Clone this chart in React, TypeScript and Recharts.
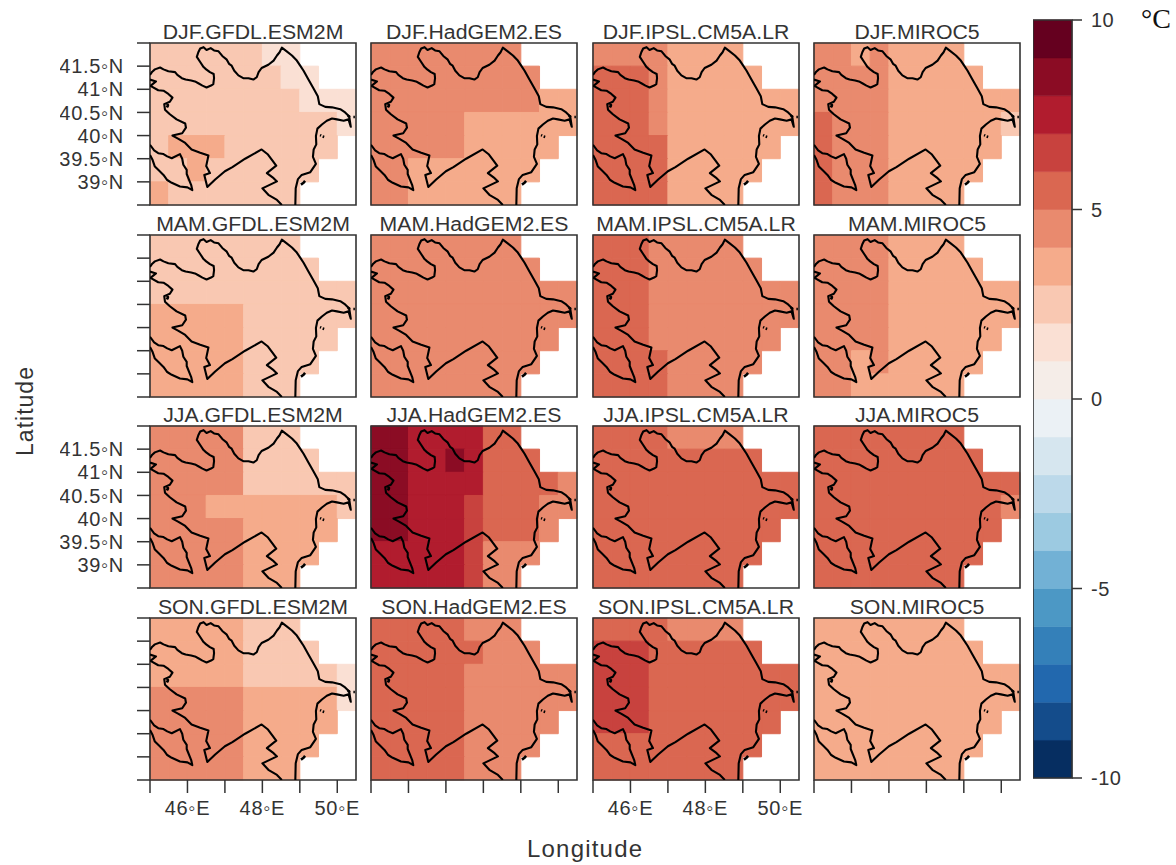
import React from "react";
import { ComposedChart, Line, XAxis, YAxis, ReferenceArea } from "recharts";

const FONT = "'Liberation Sans', Arial, sans-serif";
const INK = "#333333";

// colour key, one band per degree from -10 to 10
const BAND_COLORS = [
  "#062e61", "#144c8b", "#2268ae", "#3480b9", "#4c98c5",
  "#72b1d5", "#9ccae1", "#bcd9ea", "#d6e6ef", "#ebf1f5",
  "#f5ede8", "#fae0d4", "#f9c8b2", "#f5ab8b", "#e98a6e",
  "#da6751", "#c8423e", "#b11c2e", "#8b0c24", "#65001f",
];
const COLORBAR_TICKS = [-10, -5, 0, 5, 10];
const COLORBAR_RANGE = [{ x: 0, value: -10 }, { x: 1, value: 10 }];

const LON_TICKS = [45, 46, 47, 48, 49, 50];
const LON_LABELS = [46, 48, 50];
const LAT_TICKS = [38.5, 39, 39.5, 40, 40.5, 41, 41.5, 42];
const LAT_LABELS = [39, 39.5, 40, 40.5, 41, 41.5];

const SEASONS = ["DJF", "MAM", "JJA", "SON"];
const MODELS = ["GFDL.ESM2M", "HadGEM2.ES", "IPSL.CM5A.LR", "MIROC5"];

// warming per cell, north row first, west to east; rows stop where the domain is masked
const DJF_GFDL = [
  [2.5, 2.5, 2.5, 2.5, 2.5, 2.5, 1.5, 1.5],
  [2.5, 2.5, 2.5, 2.5, 2.5, 2.5, 2.5, 1.5, 1.5],
  [2.5, 2.5, 2.5, 2.5, 2.5, 2.5, 2.5, 2.5, 1.5, 1.5, 1.5],
  [2.5, 2.5, 2.5, 2.5, 2.5, 2.5, 2.5, 2.5, 2.5, 2.5, 1.5],
  [2.5, 3.5, 3.5, 3.5, 2.5, 2.5, 2.5, 2.5, 2.5, 2.5],
  [2.5, 2.5, 3.5, 2.5, 2.5, 2.5, 2.5, 2.5, 2.5],
  [3.5, 2.5, 2.5, 2.5, 2.5, 2.5, 2.5, 2.5],
];
const DJF_HAD = [
  [4.5, 4.5, 4.5, 4.5, 4.5, 4.5, 4.5, 4.5],
  [4.5, 4.5, 4.5, 4.5, 4.5, 4.5, 4.5, 4.5, 4.5],
  [4.5, 4.5, 4.5, 4.5, 4.5, 4.5, 4.5, 4.5, 4.5, 3.5, 3.5],
  [4.5, 4.5, 4.5, 4.5, 4.5, 3.5, 3.5, 3.5, 3.5, 3.5, 3.5],
  [4.5, 4.5, 4.5, 4.5, 4.5, 3.5, 3.5, 3.5, 3.5, 3.5],
  [4.5, 4.5, 3.5, 3.5, 3.5, 3.5, 3.5, 3.5, 3.5],
  [4.5, 4.5, 3.5, 3.5, 3.5, 3.5, 3.5, 3.5],
];
const DJF_IPSL = [
  [4.5, 4.5, 4.5, 4.5, 3.5, 3.5, 3.5, 3.5],
  [5.5, 5.5, 5.5, 4.5, 3.5, 3.5, 3.5, 3.5, 3.5],
  [5.5, 5.5, 5.5, 4.5, 3.5, 3.5, 3.5, 3.5, 3.5, 3.5, 3.5],
  [5.5, 5.5, 5.5, 4.5, 3.5, 3.5, 3.5, 3.5, 3.5, 3.5, 3.5],
  [5.5, 5.5, 5.5, 5.5, 3.5, 3.5, 3.5, 3.5, 3.5, 3.5],
  [5.5, 5.5, 5.5, 5.5, 3.5, 3.5, 3.5, 3.5, 3.5],
  [5.5, 5.5, 5.5, 5.5, 3.5, 3.5, 3.5, 3.5],
];
const DJF_MIROC = [
  [4.5, 4.5, 3.5, 4.5, 3.5, 3.5, 3.5, 3.5],
  [4.5, 4.5, 4.5, 4.5, 3.5, 3.5, 3.5, 3.5, 3.5],
  [4.5, 4.5, 4.5, 4.5, 3.5, 3.5, 3.5, 3.5, 3.5, 3.5, 3.5],
  [5.5, 4.5, 4.5, 4.5, 3.5, 3.5, 3.5, 3.5, 3.5, 3.5, 2.5],
  [5.5, 4.5, 4.5, 4.5, 3.5, 3.5, 3.5, 3.5, 3.5, 3.5],
  [5.5, 4.5, 4.5, 4.5, 3.5, 3.5, 3.5, 3.5, 3.5],
  [5.5, 4.5, 4.5, 4.5, 3.5, 3.5, 3.5, 3.5],
];
const MAM_GFDL = [
  [2.5, 2.5, 2.5, 2.5, 2.5, 2.5, 2.5, 2.5],
  [2.5, 2.5, 2.5, 2.5, 2.5, 2.5, 2.5, 2.5, 2.5],
  [2.5, 2.5, 2.5, 2.5, 2.5, 2.5, 2.5, 2.5, 2.5, 2.5, 2.5],
  [3.5, 3.5, 3.5, 3.5, 3.5, 2.5, 2.5, 2.5, 2.5, 2.5, 2.5],
  [3.5, 3.5, 3.5, 3.5, 3.5, 2.5, 2.5, 2.5, 2.5, 2.5],
  [3.5, 3.5, 3.5, 3.5, 3.5, 2.5, 2.5, 2.5, 2.5],
  [3.5, 3.5, 3.5, 3.5, 3.5, 2.5, 2.5, 2.5],
];
const MAM_HAD = [
  [4.5, 4.5, 4.5, 4.5, 4.5, 4.5, 4.5, 4.5],
  [4.5, 4.5, 4.5, 4.5, 4.5, 4.5, 4.5, 4.5, 4.5],
  [4.5, 4.5, 4.5, 4.5, 4.5, 4.5, 4.5, 4.5, 4.5, 4.5, 4.5],
  [4.5, 4.5, 4.5, 4.5, 4.5, 4.5, 4.5, 4.5, 4.5, 4.5, 4.5],
  [4.5, 4.5, 4.5, 4.5, 4.5, 4.5, 4.5, 4.5, 4.5, 4.5],
  [4.5, 4.5, 4.5, 4.5, 4.5, 4.5, 4.5, 4.5, 4.5],
  [4.5, 4.5, 4.5, 4.5, 4.5, 4.5, 4.5, 4.5],
];
const MAM_IPSL = [
  [5.5, 5.5, 5.5, 4.5, 4.5, 4.5, 4.5, 4.5],
  [5.5, 5.5, 5.5, 4.5, 4.5, 4.5, 4.5, 4.5, 4.5],
  [5.5, 5.5, 5.5, 4.5, 4.5, 4.5, 4.5, 4.5, 4.5, 4.5, 4.5],
  [5.5, 5.5, 5.5, 4.5, 4.5, 4.5, 4.5, 4.5, 4.5, 4.5, 4.5],
  [5.5, 5.5, 5.5, 4.5, 4.5, 4.5, 4.5, 4.5, 4.5, 4.5],
  [5.5, 5.5, 5.5, 5.5, 4.5, 4.5, 4.5, 4.5, 4.5],
  [5.5, 5.5, 5.5, 5.5, 4.5, 4.5, 4.5, 4.5],
];
const MAM_MIROC = [
  [4.5, 4.5, 4.5, 4.5, 3.5, 3.5, 3.5, 3.5],
  [4.5, 4.5, 4.5, 4.5, 3.5, 3.5, 3.5, 3.5, 3.5],
  [4.5, 4.5, 4.5, 4.5, 3.5, 3.5, 3.5, 3.5, 3.5, 3.5, 3.5],
  [4.5, 4.5, 4.5, 4.5, 3.5, 3.5, 3.5, 3.5, 3.5, 3.5, 3.5],
  [4.5, 4.5, 4.5, 4.5, 3.5, 3.5, 3.5, 3.5, 3.5, 3.5],
  [4.5, 4.5, 3.5, 4.5, 3.5, 3.5, 3.5, 3.5, 3.5],
  [4.5, 4.5, 3.5, 3.5, 3.5, 3.5, 3.5, 3.5],
];
const JJA_GFDL = [
  [4.5, 4.5, 4.5, 4.5, 4.5, 2.5, 2.5, 2.5],
  [4.5, 4.5, 4.5, 4.5, 4.5, 2.5, 2.5, 2.5, 2.5],
  [4.5, 4.5, 4.5, 4.5, 4.5, 2.5, 2.5, 2.5, 2.5, 2.5, 2.5],
  [4.5, 4.5, 4.5, 3.5, 3.5, 3.5, 3.5, 3.5, 3.5, 3.5, 2.5],
  [4.5, 4.5, 4.5, 4.5, 4.5, 3.5, 3.5, 3.5, 3.5, 3.5],
  [4.5, 4.5, 4.5, 4.5, 4.5, 3.5, 3.5, 3.5, 3.5],
  [4.5, 4.5, 4.5, 4.5, 4.5, 3.5, 3.5, 3.5],
];
const JJA_HAD = [
  [8.5, 8.5, 7.5, 7.5, 7.5, 7.5, 5.5, 5.5],
  [8.5, 8.5, 7.5, 7.5, 8.5, 7.5, 5.5, 5.5, 5.5],
  [8.5, 8.5, 7.5, 7.5, 7.5, 7.5, 5.5, 5.5, 5.5, 5.5, 4.5],
  [8.5, 8.5, 7.5, 7.5, 7.5, 6.5, 5.5, 5.5, 5.5, 4.5, 4.5],
  [8.5, 8.5, 7.5, 7.5, 7.5, 6.5, 5.5, 5.5, 5.5, 4.5],
  [7.5, 7.5, 7.5, 7.5, 7.5, 6.5, 4.5, 4.5, 4.5],
  [7.5, 7.5, 7.5, 7.5, 7.5, 6.5, 4.5, 4.5],
];
const JJA_IPSL = [
  [5.5, 5.5, 5.5, 5.5, 4.5, 4.5, 4.5, 4.5],
  [5.5, 5.5, 5.5, 5.5, 5.5, 5.5, 5.5, 5.5, 5.5],
  [5.5, 5.5, 5.5, 5.5, 5.5, 5.5, 5.5, 5.5, 5.5, 5.5, 5.5],
  [5.5, 5.5, 5.5, 5.5, 5.5, 5.5, 5.5, 5.5, 5.5, 5.5, 5.5],
  [5.5, 5.5, 5.5, 5.5, 5.5, 5.5, 5.5, 5.5, 5.5, 5.5],
  [5.5, 5.5, 5.5, 5.5, 5.5, 5.5, 5.5, 5.5, 5.5],
  [5.5, 5.5, 5.5, 5.5, 5.5, 5.5, 5.5, 5.5],
];
const JJA_MIROC = [
  [5.5, 5.5, 5.5, 5.5, 5.5, 5.5, 5.5, 5.5],
  [5.5, 5.5, 5.5, 5.5, 5.5, 5.5, 5.5, 5.5, 5.5],
  [5.5, 5.5, 5.5, 5.5, 5.5, 5.5, 5.5, 5.5, 5.5, 5.5, 5.5],
  [5.5, 5.5, 5.5, 5.5, 5.5, 5.5, 5.5, 5.5, 5.5, 5.5, 4.5],
  [5.5, 5.5, 5.5, 5.5, 5.5, 5.5, 5.5, 5.5, 5.5, 5.5],
  [5.5, 5.5, 5.5, 5.5, 5.5, 5.5, 5.5, 5.5, 5.5],
  [5.5, 5.5, 5.5, 5.5, 5.5, 5.5, 5.5, 5.5],
];
const SON_GFDL = [
  [3.5, 3.5, 3.5, 3.5, 3.5, 2.5, 2.5, 2.5],
  [3.5, 3.5, 3.5, 3.5, 3.5, 2.5, 2.5, 2.5, 2.5],
  [3.5, 3.5, 3.5, 3.5, 3.5, 2.5, 2.5, 2.5, 2.5, 2.5, 1.5],
  [4.5, 4.5, 4.5, 4.5, 4.5, 3.5, 3.5, 3.5, 3.5, 3.5, 1.5],
  [4.5, 4.5, 4.5, 4.5, 4.5, 3.5, 3.5, 3.5, 3.5, 3.5],
  [4.5, 4.5, 4.5, 4.5, 4.5, 3.5, 3.5, 3.5, 3.5],
  [4.5, 4.5, 4.5, 4.5, 4.5, 3.5, 3.5, 3.5],
];
const SON_HAD = [
  [5.5, 5.5, 5.5, 5.5, 5.5, 4.5, 4.5, 4.5],
  [5.5, 5.5, 5.5, 5.5, 5.5, 5.5, 4.5, 4.5, 4.5],
  [5.5, 5.5, 5.5, 5.5, 5.5, 4.5, 4.5, 4.5, 4.5, 4.5, 4.5],
  [5.5, 5.5, 5.5, 5.5, 5.5, 4.5, 4.5, 4.5, 4.5, 4.5, 4.5],
  [5.5, 5.5, 5.5, 5.5, 5.5, 4.5, 4.5, 4.5, 4.5, 4.5],
  [5.5, 5.5, 5.5, 5.5, 5.5, 4.5, 4.5, 4.5, 4.5],
  [5.5, 5.5, 5.5, 5.5, 5.5, 4.5, 4.5, 4.5],
];
const SON_IPSL = [
  [5.5, 5.5, 5.5, 5.5, 4.5, 4.5, 4.5, 4.5],
  [6.5, 6.5, 6.5, 5.5, 5.5, 5.5, 5.5, 5.5, 5.5],
  [6.5, 6.5, 6.5, 5.5, 5.5, 5.5, 5.5, 5.5, 5.5, 5.5, 5.5],
  [6.5, 6.5, 6.5, 5.5, 5.5, 5.5, 5.5, 5.5, 5.5, 5.5, 5.5],
  [6.5, 6.5, 6.5, 5.5, 5.5, 5.5, 5.5, 5.5, 5.5, 5.5],
  [5.5, 5.5, 5.5, 5.5, 5.5, 5.5, 5.5, 5.5, 5.5],
  [5.5, 5.5, 5.5, 5.5, 5.5, 5.5, 5.5, 5.5],
];
const SON_MIROC = [
  [3.5, 3.5, 3.5, 3.5, 3.5, 3.5, 3.5, 3.5],
  [3.5, 3.5, 3.5, 3.5, 3.5, 3.5, 3.5, 3.5, 3.5],
  [3.5, 3.5, 3.5, 3.5, 3.5, 3.5, 3.5, 3.5, 3.5, 3.5, 3.5],
  [3.5, 3.5, 3.5, 3.5, 3.5, 3.5, 3.5, 3.5, 3.5, 3.5, 3.5],
  [3.5, 3.5, 3.5, 3.5, 3.5, 3.5, 3.5, 3.5, 3.5, 3.5],
  [3.5, 3.5, 3.5, 3.5, 3.5, 3.5, 3.5, 3.5, 3.5],
  [3.5, 3.5, 3.5, 3.5, 3.5, 3.5, 3.5, 3.5],
];

const GRIDS = [
  [DJF_GFDL, DJF_HAD, DJF_IPSL, DJF_MIROC],
  [MAM_GFDL, MAM_HAD, MAM_IPSL, MAM_MIROC],
  [JJA_GFDL, JJA_HAD, JJA_IPSL, JJA_MIROC],
  [SON_GFDL, SON_HAD, SON_IPSL, SON_MIROC],
];

// border lines as [lon, lat]
const NORTH_COAST = [
  [45.0, 41.31], [45.06, 41.38], [45.13, 41.43], [45.27, 41.47], [45.36, 41.43], [45.49, 41.39],
  [45.67, 41.37], [45.73, 41.31], [45.85, 41.24], [45.95, 41.21], [46.1, 41.19], [46.2, 41.17],
  [46.29, 41.13], [46.4, 41.08], [46.51, 41.04], [46.63, 41.08], [46.69, 41.11], [46.71, 41.24],
  [46.7, 41.33], [46.6, 41.37], [46.5, 41.43], [46.43, 41.48], [46.34, 41.59], [46.25, 41.7],
  [46.29, 41.8], [46.34, 41.88], [46.43, 41.91], [46.51, 41.85], [46.62, 41.89], [46.71, 41.84],
  [46.83, 41.82], [46.93, 41.72], [47.05, 41.64], [47.11, 41.55], [47.18, 41.51], [47.25, 41.4],
  [47.36, 41.3], [47.49, 41.24], [47.63, 41.24], [47.76, 41.21], [47.85, 41.26], [47.9, 41.37],
  [47.98, 41.46], [48.16, 41.53], [48.3, 41.62], [48.39, 41.73], [48.46, 41.8], [48.52, 41.9],
  [48.65, 41.82], [48.79, 41.73], [48.92, 41.62], [49.01, 41.51], [49.1, 41.4], [49.23, 41.21],
  [49.37, 41.01], [49.48, 40.85], [49.52, 40.68], [49.68, 40.62], [49.86, 40.61], [50.08, 40.57],
  [50.21, 40.5], [50.32, 40.41], [50.36, 40.19], [50.3, 40.35], [50.17, 40.32], [49.99, 40.35],
  [49.86, 40.37], [49.72, 40.32], [49.59, 40.24], [49.47, 40.15], [49.43, 39.99], [49.44, 39.81],
  [49.37, 39.7], [49.35, 39.54], [49.43, 39.39], [49.28, 39.21], [49.05, 39.15], [48.95, 39.06],
  [48.89, 38.86], [48.88, 38.5],
];
const SOUTH_BORDER = [
  [45.0, 41.08], [45.22, 40.98], [45.36, 40.97], [45.49, 40.9], [45.6, 40.82], [45.53, 40.73],
  [45.38, 40.68], [45.4, 40.56], [45.53, 40.46], [45.71, 40.35], [45.94, 40.26], [45.96, 40.17],
  [45.86, 40.05], [45.6, 40.0], [45.76, 39.93], [45.94, 39.84], [46.11, 39.7], [46.34, 39.63],
  [46.56, 39.57], [46.5, 39.34], [46.6, 39.19], [46.45, 39.15], [46.53, 38.89], [46.74, 39.05],
  [47.0, 39.23], [47.2, 39.32], [47.54, 39.5], [47.98, 39.7], [48.15, 39.59], [48.37, 39.35],
  [48.12, 39.19], [48.3, 39.08], [48.39, 39.01], [48.0, 38.86], [48.16, 38.72], [48.39, 38.61],
  [48.52, 38.5],
];
const WEST_ENCLAVE = [[45.0, 41.21], [45.16, 41.17], [45.02, 41.08]];
const NAKHCHIVAN = [
  [45.0, 39.8], [45.11, 39.68], [45.22, 39.62], [45.36, 39.6], [45.46, 39.55], [45.58, 39.51],
  [45.8, 39.6], [45.86, 39.5], [45.89, 39.37], [45.98, 39.26], [45.98, 39.17], [46.1, 38.93],
  [46.13, 38.82], [46.0, 38.88], [45.8, 38.9], [45.58, 38.98], [45.46, 39.04], [45.36, 39.15],
  [45.22, 39.26], [45.13, 39.33], [45.07, 39.47], [45.0, 39.58],
];
const LAKE_DOT = [[45.44, 40.65], [45.48, 40.66], [45.47, 40.63], [45.44, 40.65]];
const ISLAND_A = [[49.54, 40.01], [49.57, 40.0]];
const ISLAND_B = [[49.61, 39.98], [49.65, 39.97]];
const ISLAND_C = [[50.43, 40.4], [50.47, 40.4]];
const BAKU_BLOB = [[49.03, 38.94], [49.1, 38.98], [49.14, 39.02]];
const ABSHERON_BLOB = [[50.28, 40.43], [50.34, 40.4]];

const BORDERS = [
  NORTH_COAST, SOUTH_BORDER, WEST_ENCLAVE, NAKHCHIVAN,
  LAKE_DOT, ISLAND_A, ISLAND_B, ISLAND_C, BAKU_BLOB, ABSHERON_BLOB,
];

const colorOf = (v: number) => BAND_COLORS[Math.floor(v + 10)];

function Panel({ grid, title, row, col }: { grid: number[][]; title: string; row: number; col: number }) {
  const frameX = [150, 371, 593, 814][col];
  const frameY = [43, 235, 426, 618][row];
  const showY = col === 0;
  const showX = row === 3;
  const labelY = showY && row % 2 === 0;
  const labelX = showX && col % 2 === 0;

  const cells = grid.flatMap((rowValues, r) =>
    rowValues.map((v, c) => ({
      x1: 45 + c * 0.5,
      x2: 45.5 + c * 0.5,
      y1: 41.5 - r * 0.5,
      y2: 42 - r * 0.5,
      v,
    }))
  );

  return (
    <>
      <div
        style={{
          position: "absolute",
          left: frameX - 10,
          top: frameY - 22.5,
          width: 226,
          textAlign: "center",
          fontFamily: FONT,
          fontSize: 19.5,
          lineHeight: "22px",
          color: INK,
          whiteSpace: "nowrap",
          transform: "scaleX(1.09)",
        }}
      >
        {title}
      </div>
      <div style={{ position: "absolute", left: frameX - 90, top: frameY - 2 }}>
        <ComposedChart
          width={326}
          height={216}
          margin={{ top: 2, right: 30, left: showY ? 0 : 90, bottom: showX ? 2 : 52 }}
        >
          <XAxis
            type="number"
            dataKey="lon"
            domain={[45, 50.5]}
            allowDataOverflow
            ticks={LON_TICKS}
            interval={0}
            hide={!showX}
            height={50}
            axisLine={false}
            tickLine={{ stroke: INK, strokeWidth: 1.5 }}
            tickSize={13}
            tickMargin={8}
            tick={{ fontSize: 20, fontFamily: FONT, fill: INK, letterSpacing: 0.7 }}
            tickFormatter={(v: number) => (labelX && LON_LABELS.includes(v) ? `${v}\u25E6E` : "")}
          />
          <YAxis
            type="number"
            domain={[38.5, 42]}
            allowDataOverflow
            ticks={LAT_TICKS}
            interval={0}
            hide={!showY}
            width={90}
            axisLine={false}
            tickLine={{ stroke: INK, strokeWidth: 1.5 }}
            tickSize={13}
            tickMargin={13}
            tick={{ fontSize: 20, fontFamily: FONT, fill: INK, letterSpacing: 0.7 }}
            tickFormatter={(v: number) => (labelY && LAT_LABELS.includes(v) ? `${v}\u25E6N` : "")}
          />
          {cells.map((cell) => (
            <ReferenceArea
              key={`${cell.x1}-${cell.y1}`}
              x1={cell.x1}
              x2={cell.x2}
              y1={cell.y1}
              y2={cell.y2}
              fill={colorOf(cell.v)}
              fillOpacity={1}
              stroke={colorOf(cell.v)}
              strokeWidth={1}
            />
          ))}
          {BORDERS.map((border, i) => (
            <Line
              key={i}
              data={border.map(([lon, lat]) => ({ lon, lat }))}
              dataKey="lat"
              type="linear"
              stroke="#000000"
              strokeWidth={i > 3 ? 2.6 : 2.1}
              strokeLinejoin="round"
              dot={false}
              activeDot={false}
              isAnimationActive={false}
            />
          ))}
          <ReferenceArea x1={45} x2={50.5} y1={38.5} y2={42} fill="none" stroke={INK} strokeWidth={1.6} />
        </ComposedChart>
      </div>
    </>
  );
}

function Colorbar() {
  return (
    <div style={{ position: "absolute", left: 1033, top: 6 }}>
      <ComposedChart width={110} height={786} margin={{ top: 14, right: 0, left: 0, bottom: 14 }}>
        <XAxis type="number" dataKey="x" domain={[0, 1]} hide />
        <YAxis
          type="number"
          orientation="right"
          domain={[-10, 10]}
          ticks={COLORBAR_TICKS}
          interval={0}
          width={71}
          axisLine={false}
          tickLine={{ stroke: INK, strokeWidth: 1.5 }}
          tickSize={10}
          tickMargin={9}
          tick={{ fontSize: 20, fontFamily: FONT, fill: INK, letterSpacing: 0.5 }}
        />
        {BAND_COLORS.map((color, i) => (
          <ReferenceArea key={color} x1={0} x2={1} y1={i - 10} y2={i - 9} fill={color} fillOpacity={1} stroke={color} strokeWidth={0.6} />
        ))}
        <Line data={COLORBAR_RANGE} dataKey="value" stroke="none" dot={false} activeDot={false} isAnimationActive={false} />
        <ReferenceArea x1={0} x2={1} y1={-10} y2={10} fill="none" stroke={INK} strokeWidth={1.6} />
      </ComposedChart>
    </div>
  );
}

export default function App() {
  return (
    <div style={{ position: "absolute", left: 0, top: 0, width: 1176, height: 865, background: "#ffffff", overflow: "hidden" }}>
      {SEASONS.map((season, row) =>
        MODELS.map((model, col) => (
          <Panel key={`${season}.${model}`} grid={GRIDS[row][col]} title={`${season}.${model}`} row={row} col={col} />
        ))
      )}
      <Colorbar />
      <div style={{ position: "absolute", left: 1141, top: 3, fontFamily: "'Liberation Serif', serif", fontSize: 28, color: "#111111" }}>°C</div>
      <div style={{ position: "absolute", left: 527, top: 835, fontFamily: FONT, fontSize: 24, letterSpacing: 1.2, color: INK }}>Longitude</div>
      <div
        style={{
          position: "absolute",
          left: 25,
          top: 411,
          fontFamily: FONT,
          fontSize: 23,
          letterSpacing: 1,
          color: INK,
          whiteSpace: "nowrap",
          transform: "translate(-50%, -50%) rotate(-90deg)",
        }}
      >
        Latitude
      </div>
    </div>
  );
}
